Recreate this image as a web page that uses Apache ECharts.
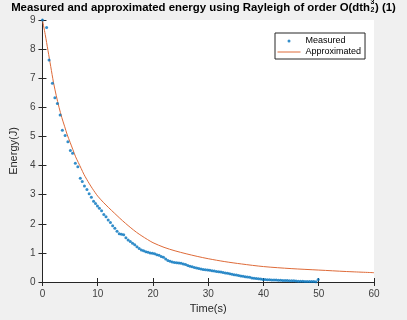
<!DOCTYPE html>
<html>
<head>
<meta charset="utf-8">
<script src="https://cdn.jsdelivr.net/npm/echarts@6/dist/echarts.min.js"></script>
<style>
  html, body { margin: 0; padding: 0; background: #f0f0f0; }
  #chart { width: 407px; height: 320px; }
</style>
</head>
<body>
<div id="chart"></div>
<script>
// measured energy, [time(s), energy(J)]
var measured = [
  [0, 9.0], [0.75, 8.74], [1.2, 7.63], [1.8, 6.83], [2.25, 6.33], [2.7, 6.13],
  [3.2, 5.74], [3.6, 5.21], [4.1, 5.03], [4.6, 4.82], [5.05, 4.52], [5.45, 4.42],
  [5.95, 4.08], [6.4, 3.96], [6.85, 3.56], [7.2, 3.45], [7.6, 3.30], [8.05, 3.18],
  [8.45, 3.03], [8.85, 2.91], [9.25, 2.77], [9.6, 2.70], [9.95, 2.61], [10.3, 2.53],
  [10.7, 2.45], [11.1, 2.32], [11.5, 2.24], [11.9, 2.13], [12.3, 2.04], [12.7, 1.93],
  [13.1, 1.85], [13.5, 1.74], [13.9, 1.66], [14.3, 1.64], [14.7, 1.62], [15.1, 1.52],
  [15.5, 1.44], [15.9, 1.39], [16.3, 1.33], [16.7, 1.28], [17.1, 1.21], [17.5, 1.15],
  [17.9, 1.10], [18.3, 1.07], [18.7, 1.04], [19.1, 1.02], [19.5, 1.00], [19.9, 0.99],
  [20.3, 0.97], [20.7, 0.94], [21.1, 0.92], [21.5, 0.88], [21.9, 0.85], [22.3, 0.79],
  [22.7, 0.74], [23.1, 0.71], [23.5, 0.69], [23.9, 0.67], [24.3, 0.66], [24.7, 0.65],
  [25.1, 0.64], [25.5, 0.62], [25.9, 0.60], [26.3, 0.57], [26.7, 0.54], [27.1, 0.52],
  [27.5, 0.50], [27.9, 0.48], [28.3, 0.46], [28.7, 0.45], [29.1, 0.43], [29.5, 0.42],
  [29.9, 0.41], [30.3, 0.40], [30.7, 0.39], [31.1, 0.38], [31.5, 0.36], [31.9, 0.35],
  [32.3, 0.34], [32.7, 0.33], [33.1, 0.31], [33.5, 0.30], [33.9, 0.28], [34.3, 0.27],
  [34.7, 0.25], [35.1, 0.24], [35.5, 0.22], [35.9, 0.21], [36.3, 0.20], [36.7, 0.18],
  [37.1, 0.17], [37.5, 0.16], [37.9, 0.14], [38.3, 0.13], [38.7, 0.12], [39.1, 0.11],
  [39.5, 0.10], [39.9, 0.09], [40.3, 0.085], [40.7, 0.08], [41.1, 0.075], [41.5, 0.07],
  [41.9, 0.07], [42.3, 0.065], [42.7, 0.06], [43.1, 0.06], [43.5, 0.055], [43.9, 0.05],
  [44.3, 0.05], [44.7, 0.045], [45.1, 0.04], [45.5, 0.04], [45.9, 0.035], [46.3, 0.03],
  [46.7, 0.03], [47.1, 0.025], [47.5, 0.02], [47.9, 0.02], [48.3, 0.02], [48.7, 0.015],
  [49.1, 0.015], [49.5, 0.01], [49.9, 0.09]
];

// approximated energy
var approxTime = [0, 0.5, 1, 1.5, 2, 2.5, 3, 3.5, 4, 4.5, 5, 5.5, 6, 6.5, 7, 7.5, 8, 8.5, 9, 9.5,
  10, 11, 12, 13, 14, 15, 16, 17, 18, 19, 20, 22, 24, 26, 28, 30, 33, 36, 40, 45, 50, 55, 60];
var approxEnergy = [9.0, 8.5, 7.95, 7.4, 6.85, 6.4, 6.0, 5.65, 5.35, 5.05, 4.8, 4.55, 4.3, 4.1, 3.9, 3.7, 3.53, 3.37, 3.22, 3.08,
  2.95, 2.74, 2.55, 2.37, 2.19, 2.02, 1.86, 1.71, 1.58, 1.46, 1.35, 1.19, 1.07, 0.97, 0.88, 0.80, 0.70, 0.62, 0.53, 0.46, 0.41, 0.36, 0.32];

var xTicks = [0, 60, 10];   // min, max, step
var yTicks = [0, 9, 1];

var axisColor = '#262626';
var font = 'Liberation Sans, Arial, sans-serif';

var approx = approxTime.map(function (t, i) { return [t, approxEnergy[i]]; });

var chart = echarts.init(document.getElementById('chart'));

function boxAxis(pos, range, showLabel) {
  return {
    type: 'value',
    position: pos,
    min: range[0],
    max: range[1],
    interval: range[2],
    axisLine: { show: true, lineStyle: { color: axisColor, width: 1 } },
    axisTick: { show: true, inside: true, length: 4, lineStyle: { color: axisColor } },
    axisLabel: { show: showLabel, color: '#404040', fontSize: 10, fontFamily: font, margin: 7 },
    splitLine: { show: false }
  };
}

var xBottom = boxAxis('bottom', xTicks, true);
xBottom.name = 'Time(s)';
xBottom.nameLocation = 'middle';
xBottom.nameGap = 20;
xBottom.nameTextStyle = { color: '#262626', fontSize: 11, fontFamily: font };

var yLeft = boxAxis('left', yTicks, true);
yLeft.name = 'Energy(J)';
yLeft.nameLocation = 'middle';
yLeft.nameGap = 15;
yLeft.nameTextStyle = { color: '#262626', fontSize: 11, fontFamily: font };

var option = {
  backgroundColor: '#f0f0f0',
  animation: false,
  title: {
    text: 'Measured and approximated energy using Rayleigh of order O(dth',
    right: 37,
    top: 2,
    padding: 0,
    textStyle: { color: '#000', fontSize: 11.4, fontWeight: 'bold', fontFamily: font }
  },
  graphic: [
    { type: 'text', left: 370.5, top: -1, style: { text: '3', fill: '#000', font: 'bold 7px ' + font } },
    { type: 'text', left: 370.5, top: 7, style: { text: '2', fill: '#000', font: 'bold 7px ' + font } },
    { type: 'text', left: 375, top: 2, style: { text: ') (1)', fill: '#000', font: 'bold 11.4px ' + font } }
  ],
  grid: {
    left: 41, right: 33, top: 20, bottom: 38,
    show: true, backgroundColor: '#ffffff', borderWidth: 0
  },
  legend: {
    orient: 'vertical',
    left: 275,
    top: 33,
    padding: [3, 4, 2, 2],
    itemGap: 1,
    itemWidth: 23,
    itemHeight: 3,
    backgroundColor: '#ffffff',
    borderColor: '#262626',
    borderWidth: 1,
    lineStyle: { width: 1 },
    textStyle: { color: '#000', fontSize: 9, fontFamily: font, lineHeight: 10 },
    data: ['Measured', { name: 'Approximated', itemStyle: { opacity: 0 } }]
  },
  xAxis: [xBottom, boxAxis('top', xTicks, false)],
  yAxis: [yLeft, boxAxis('right', yTicks, false)],
  series: [
    {
      name: 'Measured',
      type: 'scatter',
      symbol: 'circle',
      symbolSize: 3,
      itemStyle: { color: '#0072BD' },
      data: measured,
      z: 3
    },
    {
      name: 'Approximated',
      type: 'line',
      symbol: 'none',
      smooth: 0.3,
      lineStyle: { color: '#DE6A38', width: 1 },
      itemStyle: { color: '#DE6A38' },
      data: approx,
      z: 2
    }
  ]
};

chart.setOption(option);
</script>
</body>
</html>
